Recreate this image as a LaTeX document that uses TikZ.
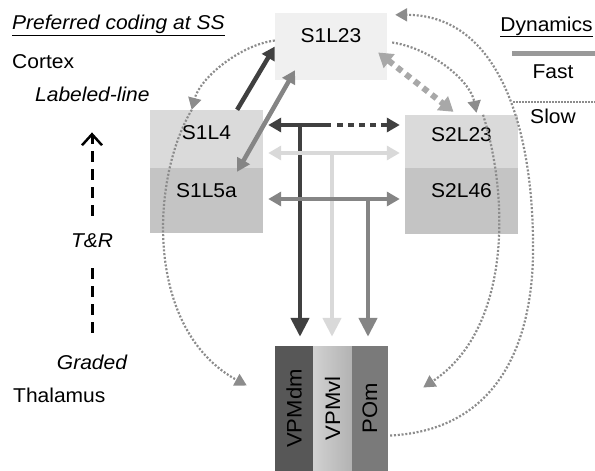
\documentclass[tikz,border=0pt]{standalone}
\usepackage{fontspec}
\setmainfont{Liberation Sans}[FakeStretch=1.05]
\usepackage{graphicx}
\usetikzlibrary{arrows.meta,calc}
\definecolor{boxlt}{HTML}{F0F0F0}
\definecolor{lyrup}{HTML}{DADADA}
\definecolor{lyrlow}{HTML}{C4C4C4}
\definecolor{dmgray}{HTML}{575757}
\definecolor{pomgray}{HTML}{7A7A7A}
\definecolor{arrdark}{HTML}{404040}
\definecolor{arrlight}{HTML}{D9D9D9}
\definecolor{arrmid}{HTML}{858585}
\definecolor{fbgray}{HTML}{A8A8A8}
\definecolor{slowgray}{HTML}{8C8C8C}
\newcommand{\lbl}{\fontsize{20}{24}\selectfont}

\begin{document}
\begin{tikzpicture}[x=1pt,y=-1pt,
  layer/.style={minimum width=113pt, inner sep=0pt, font=\lbl},
  thal/.style={minimum width=#1, minimum height=125pt, inner sep=0pt, font=\fontsize{21}{24}\selectfont},
  txt/.style={inner sep=0pt, font=\lbl},
  itxt/.style={inner sep=0pt, font=\lbl\itshape},
  fastln/.style={line width=4.5pt},
  tip/.style={-{Triangle[width=14pt,length=13pt]}},
  bothtips/.style={{Triangle[width=14pt,length=13pt]}-{Triangle[width=14pt,length=13pt]}},
  bigtip/.style={-{Triangle[width=18pt,length=19pt]}, shorten >=9pt},
  sqdots/.style={dash pattern=on 6pt off 5pt},
  slowln/.style={draw=slowgray, line width=2.2pt, dash pattern=on 2pt off 1.8pt,
    -{Triangle[width=13pt,length=12pt]}},
  fbline/.style={draw=fbgray, line width=6pt, sqdots,
    {Triangle[width=17pt,length=14pt]}-{Triangle[width=17pt,length=14pt]}},
  dashln/.style={line width=3pt, dash pattern=on 11pt off 7pt}]
\useasboundingbox (0,0) rectangle (595,471);

% cortex areas
\node[layer, fill=boxlt, minimum width=112pt, minimum height=67pt, text depth=21pt] (s1l23) at (331,46.5) {S1L23};
\node[layer, fill=lyrup, minimum height=58pt, text depth=12pt] (s1l4) at (206.5,139) {S1L4};
\node[layer, fill=lyrlow, minimum height=65pt, text depth=19pt] (s1l5a) at (206.5,200.5) {S1L5a};
\node[layer, fill=lyrup, minimum height=53pt, text depth=13pt] (s2l23) at (461.5,141.5) {S2L23};
\node[layer, fill=lyrlow, minimum height=66pt, text depth=20pt] (s2l46) at (461.5,201) {S2L46};

% thalamic nuclei
\node[thal=38pt, fill=dmgray] (vpmdm) at (294,408.5) {\rotatebox{90}{VPMdm}};
\node[thal=39pt, left color=black!18, middle color=black!12, right color=black!30] (vpmvl) at (332.5,408.5) {\rotatebox{90}{VPMvl}};
\node[thal=36pt, fill=pomgray] (pom) at (370,408.5) {\rotatebox{90}{POm}};

% labels on the left
\node[itxt, anchor=base west] (pref) at (12,29.5) {\underline{Preferred coding at SS}};
\node[txt, anchor=base west] (cortex) at (12,68) {Cortex};
\node[itxt, anchor=base west] (labeled) at (35,101) {Labeled-line};
\node[itxt, anchor=base] (tr) at (92,247) {T\&R};
\node[itxt, anchor=base] (graded) at (92,369) {Graded};
\node[txt, anchor=base west] (thalamus) at (13,402) {Thalamus};
\draw[dashln, shorten <=21pt, shorten >=19pt] (tr.south) -- (tr.south |- graded.north);
\draw[dashln, -{Straight Barb[length=11pt,width=20pt,line width=2.5pt]}, shorten <=17pt, shorten >=31pt]
  (tr.north) -- (tr.north |- labeled.south);

% legend
\node[txt, anchor=base] (dyn) at (546.5,31) {\underline{Dynamics}};
\draw[line width=5pt, draw=black!40] (512,53) -- (595,53);
\node[txt, anchor=base] (fastlbl) at (553,78) {Fast};
\draw[line width=1.5pt, draw=slowgray, dash pattern=on 1.5pt off 1.5pt] (513,102) -- (595,102);
\node[txt, anchor=base] (slowlbl) at (553,123) {Slow};

% fast pathways
\coordinate (jdark) at (300,125);
\coordinate (jlight) at (332,153);
\coordinate (jmid) at (368,199);
\coordinate (dsplit) at (331,125);
\draw[fastln, arrdark, tip] ($(s1l4.north west)!0.77!(s1l4.north east)$) -- (s1l23.west);
\draw[fastln, arrdark, {Triangle[width=14pt,length=13pt]}-, shorten <=5pt] (s1l4.east |- jdark) -- (dsplit);
\draw[fastln, arrdark, sqdots, tip, shorten >=5pt] ([xshift=6pt]dsplit) -- (s2l23.west |- jdark);
\draw[fastln, arrdark, bigtip] (jdark) -- (jdark |- vpmdm.north);
\draw[fastln, arrlight, bothtips, shorten <=5pt, shorten >=5pt] (s1l4.east |- jlight) -- (s2l23.west |- jlight);
\draw[fastln, arrlight, bigtip] (jlight) -- (jlight |- vpmvl.north);
\draw[fastln, arrmid, bothtips, shorten <=5pt, shorten >=5pt] (s1l5a.east |- jmid) -- (s2l46.west |- jmid);
\draw[fastln, arrmid, bigtip] (jmid) -- (jmid |- pom.north);
\draw[fastln, arrmid, bothtips]
  ($(s1l5a.north west)!0.77!(s1l5a.north east)+(0,4)$) -- ($(s1l23.south west)!0.18!(s1l23.south east)+(0,-10)$);
\draw[fbline] ($(s1l23.east)+(-9,6)$) -- ($(s2l23.north)+(-8,-3)$);

% slow pathways
\coordinate (l4in) at ($(s1l4.north west)!0.37!(s1l4.north east)$);
\coordinate (dmin) at ($(vpmdm.west)+(-28,-23)$);
\coordinate (s2in) at ($(s2l23.north)+(15,-2)$);
\coordinate (s2out) at ($(s2l23.north west)!0.69!(s2l23.north east)$);
\coordinate (pomin) at ($(pom.east)+(35,-21)$);
\draw[slowln] ($(s1l23.west)+(0,-6)$) .. controls (240,45) and (200,78) .. (l4in);
\draw[slowln] (l4in) .. controls (150,180) and (145,330) .. (dmin);
\draw[slowln] ($(s1l23.east)+(5,-4)$) .. controls (430,48) and (470,80) .. (s2in);
\draw[slowln] (s2out) .. controls (510,200) and (510,330) .. (pomin);
\draw[slowln] ($(pom.east)+(2,27)$) .. controls (500,430) and (535,340) .. (533,240)
  .. controls (532,130) and (500,15) .. ($(s1l23.north east)+(8,2)$);
\end{tikzpicture}
\end{document}
